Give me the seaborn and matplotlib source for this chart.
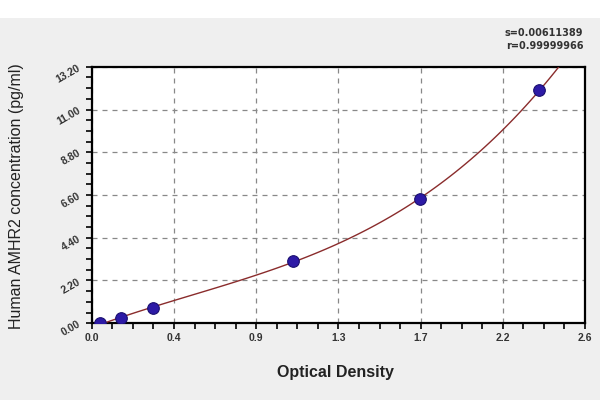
import matplotlib
matplotlib.use("Agg")
import matplotlib.pyplot as plt
from matplotlib.patches import Rectangle
from matplotlib.ticker import AutoMinorLocator
import numpy as np
import seaborn as sns

# standard curve readings
optical_density = [0.044, 0.155, 0.32, 1.06, 1.73, 2.36]
concentration = [0.0, 0.26, 0.77, 3.21, 6.39, 12.0]

x_tick_labels = ["0.0", "0.4", "0.9", "1.3", "1.7", "2.2", "2.6"]
y_tick_labels = ["0.00", "2.20", "4.40", "6.60", "8.80", "11.00", "13.20"]
fit_text = ["s=0.00611389", "r=0.99999966"]

sns.set_theme(style="white")
plt.rcParams["font.family"] = ["Liberation Sans", "DejaVu Sans"]

fig = plt.figure(figsize=(6, 4), dpi=100, facecolor="#efefef")
fig.add_artist(Rectangle((0, 0.955), 1, 0.045, transform=fig.transFigure,
                         facecolor="white", edgecolor="none", zorder=0))
ax = fig.add_axes([0.153, 0.192, 0.822, 0.641])
ax.set_facecolor("white")

ax.set_xlim(0, 2.6)
ax.set_ylim(0, 13.2)

sns.regplot(x=optical_density, y=concentration, order=3, ci=None, truncate=False,
            scatter=False, ax=ax, line_kws={"color": "#8a2c2c", "lw": 1.0, "zorder": 3})
sns.scatterplot(x=optical_density, y=concentration, ax=ax, s=70, color="#2d1aa6",
                edgecolor="#1a0f70", linewidth=0.8, zorder=4)

ax.set_xticks(np.linspace(0, 2.6, 7))
ax.set_xticklabels(x_tick_labels)
ax.set_yticks(np.linspace(0, 13.2, 7))
ax.set_yticklabels(y_tick_labels, rotation=30)
ax.xaxis.set_minor_locator(AutoMinorLocator(4))
ax.yaxis.set_minor_locator(AutoMinorLocator(4))
ax.tick_params(which="both", direction="out", length=4, width=1.2, color="black",
               bottom=True, left=True)
ax.tick_params(axis="both", labelsize=7.5, labelcolor="#333333", pad=3)
for lbl in ax.get_xticklabels() + ax.get_yticklabels():
    lbl.set_fontweight("bold")

ax.grid(True, which="major", linestyle=(0, (4, 4)), color="#888888", lw=0.9)
for sp in ax.spines.values():
    sp.set_visible(True)
    sp.set_color("black")
    sp.set_linewidth(1.6)

ax.set_xlabel("Optical Density", fontsize=11.5, fontweight="bold", color="#222222")
ax.set_ylabel("Human AMHR2 concentration (pg/ml)", fontsize=11.5, color="#222222")
ax.xaxis.set_label_coords(0.495, -0.163)
ax.yaxis.set_label_coords(-0.137, 0.495)

fig.text(0.972, 0.905, fit_text[0], ha="right", va="bottom", fontsize=7,
         fontweight="bold", color="#333333", family="Liberation Sans Narrow")
fig.text(0.972, 0.873, fit_text[1], ha="right", va="bottom", fontsize=7,
         fontweight="bold", color="#333333", family="Liberation Sans Narrow")

fig.savefig("out.png", dpi=100, facecolor=fig.get_facecolor())
